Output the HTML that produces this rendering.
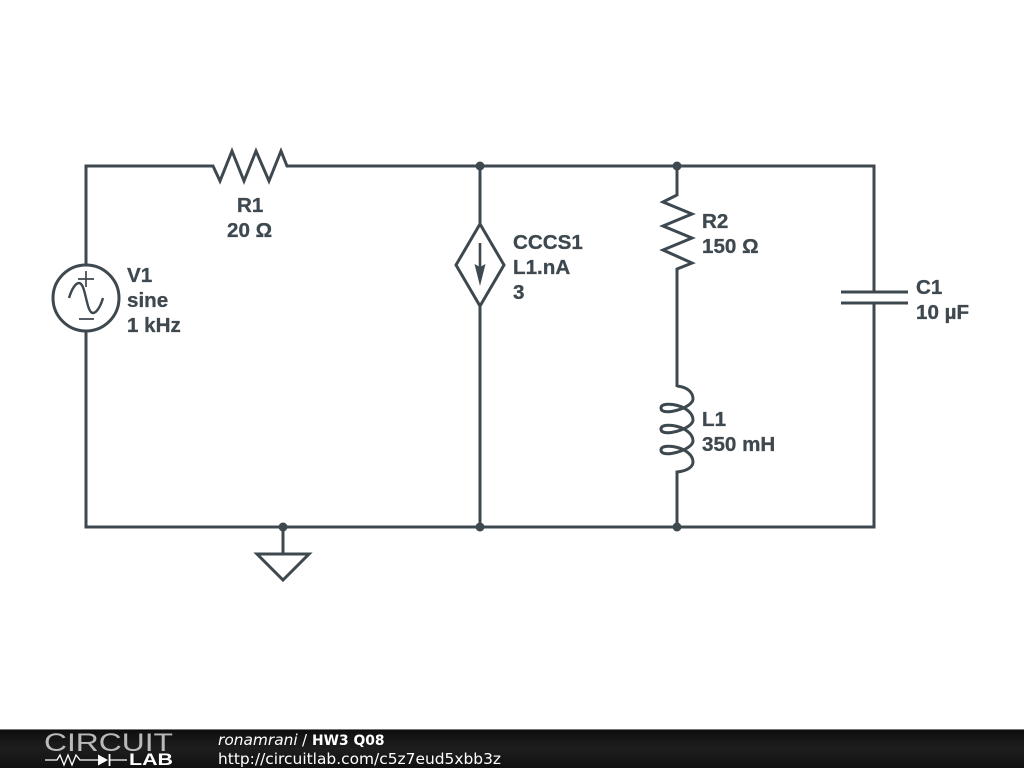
<!DOCTYPE html>
<html><head><meta charset="utf-8"><style>
html,body{margin:0;padding:0;background:#fff;width:1024px;height:768px;overflow:hidden}
svg{display:block;position:absolute;left:0;top:0}
.t{font-family:"Liberation Sans",sans-serif;font-weight:bold;font-size:20.6px;fill:#3e484f;stroke:#3e484f;stroke-width:.3px}
.f{font-family:"DejaVu Sans",sans-serif;fill:#fff}
</style></head><body>
<svg width="1024" height="768" viewBox="0 0 1024 768" xmlns="http://www.w3.org/2000/svg">
<defs><linearGradient id="g" x1="0" y1="0" x2="0" y2="1"><stop offset="0" stop-color="#0d0d0d"/><stop offset=".5" stop-color="#1e1e1e"/><stop offset="1" stop-color="#101010"/></linearGradient></defs>
<g fill="none" stroke="#3e484f" stroke-width="3" stroke-linejoin="miter">
<path d="M86 265V166H213L220 181L232 151L244 181L256 151L269 181L281 151L287 166H874V292M874 303V527H86V331"/>
<path d="M480 166V224M480 306V527"/>
<path d="M456 265L480 224L504 265L480 306Z"/>
<path d="M480 243V270" stroke-width="2.6"/>
<path d="M677 166V195L663 202L692 214L663 226L692 238L663 250L692 263L677 269V387"/>
<path d="M677 386C687 387 693 392 693 399C693 408 661 417 661 408C661 400 693 405 693 420C693 429 661 438 661 429C661 421 693 426 693 441C693 450 661 459 661 450C661 442 693 447 693 462C693 467 687 471 677 472V527"/>
<path d="M841 292H908M841 303H908"/>
<path d="M283 527V554M257 554H309L283 580Z"/>
<circle cx="86" cy="298" r="33"/>
<path d="M86 271V287M78 279H94M79 319H94" stroke-width="1.7"/>
<path d="M69 298C72 288 76 283 79 283C86 283 86 313 93 313C96 313 100 308 103 298" stroke-width="2.4"/>
</g>
<path d="M474.5 264L480 267L485.5 264L480 286Z" fill="#3e484f"/>
<g fill="#3e484f"><circle cx="480" cy="166" r="4.5"/><circle cx="677" cy="166" r="4.5"/><circle cx="480" cy="527" r="4.5"/><circle cx="677" cy="527" r="4.5"/><circle cx="283" cy="527" r="4.5"/></g>
<g class="t">
<text x="237" y="212">R1</text><text x="227" y="237">20 Ω</text>
<text x="127" y="282">V1</text><text x="127" y="307">sine</text><text x="127" y="332">1 kHz</text>
<text x="513" y="249">CCCS1</text><text x="513" y="274">L1.nA</text><text x="513" y="299">3</text>
<text x="702" y="228">R2</text><text x="702" y="253">150 Ω</text>
<text x="702" y="426">L1</text><text x="702" y="451">350 mH</text>
<text x="916" y="294">C1</text><text x="916" y="319">10 µF</text>
</g>
<rect x="0" y="729" width="1024" height="39" fill="url(#g)"/>
<rect x="0" y="729" width="1024" height="1" fill="#777"/>
<text x="44" y="751" font-family="Liberation Sans,sans-serif" font-size="25" fill="#fff" fill-opacity=".7" textLength="129" lengthAdjust="spacingAndGlyphs">CIRCUIT</text>
<path d="M45 760H57L60 755L64 765L68 755L72 765L76 755L80 760H99M110 760H127" fill="none" stroke="#fff" stroke-width="1.3"/>
<path d="M98 754.5L108 760L98 765.5Z" fill="#fff"/><path d="M109.5 754V766" stroke="#fff" stroke-width="1.8"/>
<text x="129" y="765" font-family="Liberation Sans,sans-serif" font-weight="bold" font-size="17" fill="#fff" textLength="44" lengthAdjust="spacingAndGlyphs">LAB</text>
<text class="f" x="218" y="745" style="font-size:15.4px;font-style:italic">ronamrani</text>
<text class="f" x="302" y="745" style="font-size:15px">/</text>
<text class="f" x="312" y="745" style="font-size:13.9px;font-weight:bold">HW3 Q08</text>
<text class="f" x="218" y="764" style="font-size:15.5px" textLength="283" lengthAdjust="spacingAndGlyphs">http://circuitlab.com/c5z7eud5xbb3z</text>
</svg>
</body></html>
